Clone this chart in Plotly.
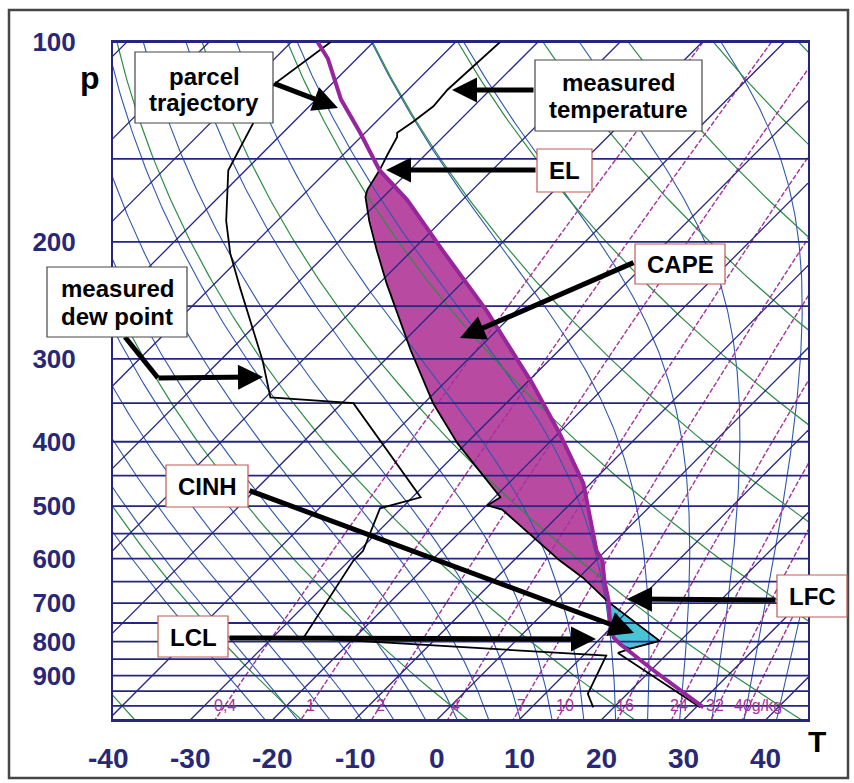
import numpy as np
import plotly.graph_objects as go

# ---------------- data ----------------
# measured temperature profile (hPa, degC)
TEMP_P = [100, 118, 125, 132, 137, 139, 148, 155, 167, 171, 186, 206, 231, 291, 350, 402,
          485, 499, 506, 584, 604, 641, 697, 798, 820, 832, 1005]
TEMP_T = [-74.6, -75.2, -74.9, -75.5, -76.1, -75.6, -74.6, -73.8, -72.8, -72.2, -68.8, -64.3,
          -59.1, -48.1, -38.9, -31.1, -19.3, -19.9, -17.6, -6.8, -4.4, 0.5, 6.5, 17.5, 14.9,
          13.9, 30.5]
# measured dew point profile (hPa, degC)
DEW_P = [100, 116, 130, 156, 186, 208, 234, 272, 302, 343, 350, 485, 504, 584, 604, 789,
         840, 959, 1005]
DEW_T = [-95.2, -97.0, -95.1, -92.1, -86.2, -81.8, -76.5, -69.6, -64.8, -59.4, -48.6, -29.0,
         -32.6, -29.5, -29.5, -26.2, 12.8, 15.2, 17.5]
# lifted parcel trajectory (hPa, degC)
PARCEL_P = [1005, 876, 806, 789, 744, 694, 648, 604, 584, 462, 389, 327, 254, 206, 173, 156,
            137, 122, 106, 100]
PARCEL_T = [30.9, 19.6, 13.0, 11.5, 9.0, 6.4, 3.5, 0.8, -1.1, -10.9, -19.8, -29.2, -43.6,
            -56.3, -66.7, -73.7, -80.6, -87.0, -93.5, -96.8]
# indices of the special levels in the arrays above
PARCEL_LCL, PARCEL_LFC, PARCEL_EL = 2, 5, 15
TEMP_EL, TEMP_LFC, TEMP_CIN_BASE = 7, 22, 24

# axes
P_TICKS = [100, 200, 300, 400, 500, 600, 700, 800, 900]
P_TICK_TEXT = ["100", "200", "300", "400", "500", "600", "700", "800", "900"]
T_TICKS = [-40, -30, -20, -10, 0, 10, 20, 30, 40]
T_TICK_TEXT = ["-40", "-30", "-20", "-10", "0", "10", "20", "30", "40"]

# background isopleths
ISOBARS = [100, 150, 200, 250, 300, 350, 400, 450, 500, 550, 600, 650, 700, 750, 800, 850,
           900, 950, 1000, 1050]
ISOTHERMS = list(range(-130, 41, 10))          # degC
DRY_ADIABATS = list(range(-40, 181, 20))       # potential temperature, degC
MOIST_ADIABATS = list(range(-24, 41, 4))       # wet-bulb potential temperature, degC
MIXING_RATIOS = [0.4, 1, 2, 4, 7, 10, 16, 24, 32, 40]   # g/kg
MIXING_LABELS = ["0,4", "1", "2", "4", "7", "10", "16", "24", "32", "40g/kg"]

# ---------------- diagram geometry ----------------
SKEW = 35.0
P_BOT, P_TOP = 1050.0, 100.0
W, H = 854, 783
L, R, TOP, BOT = 113, 808, 42, 720
X_MIN = -40 + (L - 108) / 8.22
X_MAX = -40 + (R - 108) / 8.22

NAVY = "rgb(38,38,128)"
GREEN = "rgb(45,140,70)"
BLUE = "rgb(48,88,172)"
MAG = "rgb(165,50,155)"
PARCEL_C = "rgb(150,38,155)"
CAPE_FILL = "rgb(184,74,162)"
CIN_FILL = "rgb(72,196,212)"
TICK_C = "rgb(40,40,118)"
RED = "rgb(190,90,85)"
GRAY = "rgb(70,70,70)"
FONT = "Arial, Liberation Sans, sans-serif"

RD, CP, LV, EPS = 287.04, 1005.7, 2.501e6, 0.622


def skew_x(t, p):
    return np.asarray(t, float) + SKEW * np.log(P_BOT / np.asarray(p, float))


def sat_vp(tc):
    return 6.112 * np.exp(17.67 * tc / (tc + 243.5))


def moist_rate(tk, lnp):
    p = np.exp(lnp)
    es = sat_vp(tk - 273.15)
    rs = EPS * es / (p - es)
    return (RD * tk + LV * rs) / (CP + LV * LV * rs * EPS / (RD * tk * tk))


def integrate(t0, lnps):
    t = t0
    out = [t]
    for i in range(len(lnps) - 1):
        h = lnps[i + 1] - lnps[i]
        lp = lnps[i]
        k1 = moist_rate(t, lp)
        k2 = moist_rate(t + h * k1 / 2, lp + h / 2)
        k3 = moist_rate(t + h * k2 / 2, lp + h / 2)
        k4 = moist_rate(t + h * k3, lp + h)
        t = t + h * (k1 + 2 * k2 + 2 * k3 + k4) / 6
        out.append(t)
    return np.array(out)


def joined(lines):
    xs, ys = [], []
    for x, y in lines:
        xs += list(x) + [None]
        ys += list(y) + [None]
    return xs, ys


P_LINE = np.geomspace(P_TOP, P_BOT, 120)

fig = go.Figure()

# CAPE and CIN areas
cape_p = PARCEL_P[PARCEL_LFC:PARCEL_EL + 1] + TEMP_P[TEMP_EL:TEMP_LFC + 1]
cape_t = PARCEL_T[PARCEL_LFC:PARCEL_EL + 1] + TEMP_T[TEMP_EL:TEMP_LFC + 1]
fig.add_trace(go.Scatter(x=skew_x(cape_t, cape_p), y=cape_p, fill="toself", mode="lines",
                         line=dict(width=0), fillcolor=CAPE_FILL, hoverinfo="skip"))
cin_p = TEMP_P[TEMP_LFC:TEMP_CIN_BASE + 1] + PARCEL_P[PARCEL_LCL:PARCEL_LFC + 1]
cin_t = TEMP_T[TEMP_LFC:TEMP_CIN_BASE + 1] + PARCEL_T[PARCEL_LCL:PARCEL_LFC + 1]
fig.add_trace(go.Scatter(x=skew_x(cin_t, cin_p), y=cin_p, fill="toself", mode="lines",
                         line=dict(color="black", width=1.2), fillcolor=CIN_FILL,
                         hoverinfo="skip"))

# moist adiabats
lines = []
for tw in MOIST_ADIABATS:
    up = np.linspace(np.log(1000.0), np.log(P_TOP), 160)
    dn = np.linspace(np.log(1000.0), np.log(P_BOT), 8)
    tu = integrate(tw + 273.15, up)
    td = integrate(tw + 273.15, dn)
    lnp = np.concatenate([dn[::-1], up[1:]])
    tk = np.concatenate([td[::-1], tu[1:]])
    p = np.exp(lnp)
    lines.append((skew_x(tk - 273.15, p), p))
x, y = joined(lines)
fig.add_trace(go.Scatter(x=x, y=y, mode="lines", line=dict(color=BLUE, width=1.1),
                         hoverinfo="skip"))

# dry adiabats
lines = []
for th in DRY_ADIABATS:
    t = (th + 273.15) * (P_LINE / 1000.0) ** (RD / CP) - 273.15
    lines.append((skew_x(t, P_LINE), P_LINE))
x, y = joined(lines)
fig.add_trace(go.Scatter(x=x, y=y, mode="lines", line=dict(color=GREEN, width=1.2),
                         hoverinfo="skip"))

# mixing ratio lines
lines = []
for w in MIXING_RATIOS:
    e = w * P_LINE / (622.0 + w)
    a = np.log(e / 6.112)
    t = 243.5 * a / (17.67 - a)
    lines.append((skew_x(t, P_LINE), P_LINE))
x, y = joined(lines)
fig.add_trace(go.Scatter(x=x, y=y, mode="lines",
                         line=dict(color=MAG, width=1.4, dash="5px,2px"), hoverinfo="skip"))

# isotherms
lines = []
for t in ISOTHERMS:
    pp = np.array([P_TOP, P_BOT])
    lines.append((skew_x([t, t], pp), pp))
x, y = joined(lines)
fig.add_trace(go.Scatter(x=x, y=y, mode="lines", line=dict(color=NAVY, width=1.3),
                         hoverinfo="skip"))

# isobars
lines = [([X_MIN, X_MAX], [p, p]) for p in ISOBARS]
x, y = joined(lines)
fig.add_trace(go.Scatter(x=x, y=y, mode="lines", line=dict(color=NAVY, width=1.8),
                         hoverinfo="skip"))

# soundings
fig.add_trace(go.Scatter(x=skew_x(TEMP_T, TEMP_P), y=TEMP_P, mode="lines",
                         line=dict(color="black", width=1.8), hoverinfo="skip"))
fig.add_trace(go.Scatter(x=skew_x(DEW_T, DEW_P), y=DEW_P, mode="lines",
                         line=dict(color="black", width=1.8), hoverinfo="skip"))
fig.add_trace(go.Scatter(x=skew_x(PARCEL_T, PARCEL_P), y=PARCEL_P, mode="lines",
                         line=dict(color=PARCEL_C, width=4), hoverinfo="skip"))


# ---------------- annotations ----------------
def fx(px):
    return (px - L) / (R - L)


def fy(py):
    return (BOT - py) / (BOT - TOP)


def x_frac(xval):
    return (xval - X_MIN) / (X_MAX - X_MIN)


annotations = []
shapes = []

# mixing-ratio labels, on the lines at 1000 hPa (last two nudged apart)
MIX_ANCHOR = ["center"] * 9 + ["left"]
MIX_SHIFT = [0, 0, 0, 0, 0, 0, 0, 0, -3, -17]
for w, lab, anc, sh in zip(MIXING_RATIOS, MIXING_LABELS, MIX_ANCHOR, MIX_SHIFT):
    e = w * 1000.0 / (622.0 + w)
    a = np.log(e / 6.112)
    t = 243.5 * a / (17.67 - a)
    annotations.append(dict(x=float(skew_x(t, 1000.0)), y=3.0, xref="x", yref="y",
                            text=lab, showarrow=False, xanchor=anc, yanchor="middle",
                            xshift=sh, font=dict(family=FONT, size=16, color=MAG)))

# temperature tick labels (values at the bottom isobar)
for t, lab in zip(T_TICKS, T_TICK_TEXT):
    annotations.append(dict(x=x_frac(t), y=fy(758), xref="paper", yref="paper", text=lab,
                            showarrow=False, xanchor="center", yanchor="middle",
                            font=dict(family=FONT, size=28, color=TICK_C, weight="bold")))

annotations.append(dict(x=fx(817), y=fy(741), xref="paper", yref="paper", text="T",
                        showarrow=False, xanchor="center", yanchor="middle",
                        font=dict(family=FONT, size=30, color="black", weight="bold")))
annotations.append(dict(x=fx(90), y=fy(78), xref="paper", yref="paper", text="p",
                        showarrow=False, xanchor="center", yanchor="middle",
                        font=dict(family=FONT, size=32, color="black", weight="bold")))

# label boxes: (lines, line centres y, box x0, y0, x1, y1, border colour)
BOXES = [
    (["parcel", "trajectory"], [76, 102], 135, 52, 273, 123, GRAY),
    (["measured", "temperature"], [82, 109], 535, 60, 702, 131, GRAY),
    (["EL"], [171], 537, 149, 592, 192, RED),
    (["CAPE"], [264], 635, 244, 725, 284, RED),
    (["measured", "dew point"], [288, 316], 47, 267, 187, 337, GRAY),
    (["CINH"], [486], 166, 465, 248, 507, RED),
    (["LCL"], [637], 158, 616, 228, 657, RED),
    (["LFC"], [596], 777, 575, 847, 617, RED),
]
# arrows: (tail x, tail y, tip x, tip y)
ARROWS = [
    (273, 83, 338, 108),
    (535, 90, 452, 90),
    (537, 170, 386, 170),
    (635, 262, 460, 338),
    (157, 378, 263, 377),
    (248, 490, 634, 633),
    (228, 638, 596, 639),
    (777, 600, 627, 599),
]
for tx, ty, hx, hy in ARROWS:
    annotations.append(dict(x=fx(hx), y=fy(hy), xref="paper", yref="paper", text="",
                            showarrow=True, ax=tx - hx, ay=ty - hy, arrowhead=2,
                            arrowsize=1.0, arrowwidth=5, arrowcolor="black", standoff=0))
shapes.append(dict(type="line", xref="paper", yref="paper", x0=fx(125), y0=fy(337),
                   x1=fx(158), y1=fy(378), line=dict(color="black", width=5)))

for texts, cys, x0, y0, x1, y1, col in BOXES:
    shapes.append(dict(type="rect", xref="paper", yref="paper", x0=fx(x0), x1=fx(x1),
                       y0=fy(y0), y1=fy(y1), fillcolor="white",
                       line=dict(color=col, width=1.2), layer="above"))
    for txt, cy in zip(texts, cys):
        annotations.append(dict(x=fx((x0 + x1) / 2), y=fy(cy), xref="paper", yref="paper",
                                text=txt, showarrow=False, xanchor="center",
                                yanchor="middle",
                                font=dict(family=FONT, size=24, color="black",
                                          weight="bold")))

# outer frame
shapes.append(dict(type="rect", xref="paper", yref="paper", x0=fx(9), x1=fx(848),
                   y0=fy(10), y1=fy(778), line=dict(color="rgb(70,70,70)", width=2.5),
                   layer="below"))

fig.update_layout(
    width=W, height=H,
    margin=dict(l=L, r=W - R, t=TOP, b=H - BOT),
    paper_bgcolor="white", plot_bgcolor="white",
    showlegend=False,
    annotations=annotations,
    shapes=shapes,
    xaxis=dict(range=[X_MIN, X_MAX], showgrid=False, zeroline=False, showticklabels=False,
               ticks="", showline=True, mirror=True, linecolor=NAVY, linewidth=2),
    yaxis=dict(type="log", range=[np.log10(P_BOT), np.log10(P_TOP)], autorange=False,
               tickvals=P_TICKS, ticktext=P_TICK_TEXT, showgrid=False, zeroline=False,
               ticks="", showline=True, mirror=True, linecolor=NAVY, linewidth=2,
               ticklabelstandoff=30,
               tickfont=dict(family=FONT, size=26, color=TICK_C, weight="bold")),
)

fig.write_html("out.html")
